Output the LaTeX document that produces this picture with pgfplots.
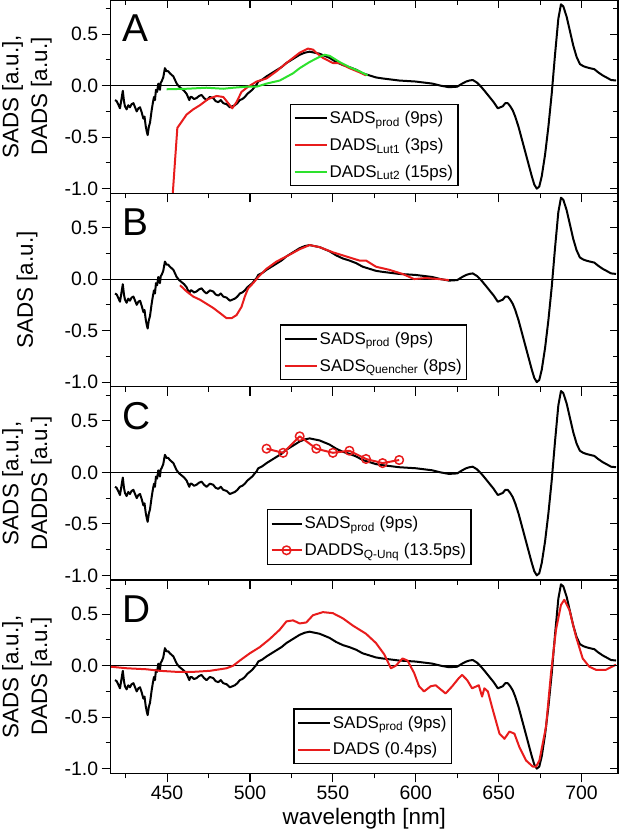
\documentclass[border=0pt]{standalone}
\usepackage{pgfplots}
\usepackage{pgfplotstable}
\pgfplotsset{compat=1.18}
\usepackage{fontspec}
\setmainfont{Liberation Sans}
\definecolor{myred}{RGB}{232,28,28}
\definecolor{mygreen}{RGB}{45,225,45}

\pgfplotstableread{
x y
418.6 -0.14
419.6 -0.15
420.5 -0.18
421.6 -0.22
422.6 -0.12
423.3 -0.05
424.0 -0.15
424.6 -0.20
425.6 -0.23
426.6 -0.19
427.6 -0.21
428.6 -0.18
429.7 -0.17
430.7 -0.21
431.7 -0.25
432.7 -0.22
433.7 -0.21
434.7 -0.26
435.7 -0.32
436.4 -0.30
437.1 -0.39
437.8 -0.45
438.3 -0.48
439.0 -0.40
439.7 -0.36
440.2 -0.30
440.7 -0.24
441.4 -0.17
442.1 -0.11
442.7 -0.14
443.3 -0.04
444.0 -0.06
444.7 0.02
445.2 -0.02
445.7 -0.04
446.2 0.03
446.7 0.04
447.7 0.08
448.7 0.17
449.7 0.14
450.7 0.14
451.7 0.12
453.8 0.09
455.8 0.02
457.3 -0.01
458.8 -0.03
460.3 -0.05
461.8 -0.08
462.6 -0.11
463.4 -0.14
464.1 -0.11
464.8 -0.11
466.3 -0.13
467.8 -0.12
469.3 -0.10
470.8 -0.09
472.3 -0.12
473.8 -0.14
475.8 -0.11
477.8 -0.12
479.3 -0.15
480.9 -0.16
482.4 -0.14
483.9 -0.17
485.9 -0.18
487.9 -0.21
489.4 -0.20
490.9 -0.19
492.4 -0.17
493.9 -0.14
495.4 -0.13
496.9 -0.11
498.4 -0.08
499.9 -0.06
501.4 -0.04
502.9 -0.01
504 0.01
505 0.04
507.5 0.06
510 0.09
513 0.12
516 0.15
519 0.18
522 0.22
526 0.26
530 0.30
533 0.32
536 0.33
539 0.32
542 0.31
545 0.29
548 0.27
552 0.23
556 0.20
560 0.18
564 0.155
568 0.12
572 0.10
576 0.08
580 0.07
585 0.06
590 0.05
595 0.045
600 0.04
605 0.03
610 0.02
615 0.00
620 -0.015
625 -0.01
628 0.02
630.4 0.04
632.4 0.05
634.4 0.055
636.9 0.03
639.4 -0.01
642 -0.06
644.5 -0.11
647 -0.16
649.5 -0.22
651 -0.21
652.5 -0.20
654 -0.17
655.5 -0.17
657 -0.20
658.5 -0.24
660 -0.30
662 -0.40
664 -0.52
666 -0.64
668 -0.76
670 -0.88
671.5 -0.96
673 -1.0
674.5 -0.98
676 -0.88
678 -0.67
680 -0.40
682 -0.08
684 0.30
686 0.65
687.6 0.79
689 0.77
691 0.67
693 0.53
695 0.39
697 0.28
699 0.21
701 0.19
702.7 0.18
705 0.17
707.7 0.16
710 0.13
712.7 0.10
715 0.08
717.8 0.055
720.8 0.05
}\sadsprod

\pgfplotstableread{
x y
453.0 -1.15
454.8 -0.73
456.2 -0.41
458.8 -0.35
461.8 -0.28
465.8 -0.23
469.8 -0.19
474.8 -0.13
479.9 -0.10
483.9 -0.11
486.9 -0.17
489.3 -0.22
491.9 -0.16
494.9 -0.06
498.9 -0.01
504 0.04
510 0.07
516 0.14
522 0.22
530 0.32
535 0.36
538 0.35
540 0.32
544 0.27
550 0.22
554 0.22
560 0.17
566 0.13
570 0.10
}\lutone

\pgfplotstableread{
x y
449.7 -0.035
461.8 -0.03
473.8 -0.02
483.9 -0.03
489.9 -0.02
497.9 -0.01
504 -0.01
510 0.02
518 0.05
526 0.12
530 0.17
536 0.23
542 0.28
545 0.30
548 0.29
554 0.23
560 0.18
566 0.14
571 0.10
}\luttwo

\pgfplotstableread{
x y
457.8 -0.06
461.8 -0.12
465.8 -0.17
469.8 -0.20
473.8 -0.24
477.8 -0.28
481.9 -0.33
485.9 -0.38
488.9 -0.38
491.9 -0.35
494.9 -0.27
496.9 -0.17
498.9 -0.09
501.9 -0.04
505 0.02
510 0.10
516 0.17
522 0.22
530 0.29
536 0.33
542 0.31
550 0.26
558 0.22
566 0.18
570 0.18
576 0.12
584 0.09
592 0.05
599 0.00
606 0.01
614 0.00
620 -0.01
}\quencher

\pgfplotstableread{
x y
510 0.23
520 0.19
530 0.35
540 0.23
550 0.19
560 0.21
570 0.13
580 0.09
590 0.12
}\qunq

\pgfplotstableread{
x y
416 -0.01
425.6 -0.025
437.7 -0.035
445.7 -0.05
455.8 -0.06
465.8 -0.06
475.8 -0.05
485.9 -0.025
489.9 0.0
493.9 0.05
499.9 0.12
505.9 0.18
512 0.26
518 0.35
522 0.43
526 0.44
530 0.41
534 0.42
538 0.49
544 0.52
550 0.51
556 0.46
562 0.39
570 0.31
576 0.22
581 0.11
585 -0.025
588 0.0
592 0.07
595 0.05
599 -0.07
602 -0.20
605 -0.25
609 -0.20
612 -0.19
615 -0.23
618 -0.27
622 -0.20
626 -0.12
628 -0.09
631 -0.14
634 -0.22
638 -0.19
640 -0.30
641.4 -0.22
643.5 -0.25
646.5 -0.43
650.5 -0.66
653.5 -0.71
656.5 -0.64
659.5 -0.66
662.5 -0.79
666.5 -0.92
670.6 -0.98
672.6 -0.98
674.6 -0.92
678.6 -0.59
681.6 -0.07
684.6 0.35
687.6 0.59
689.6 0.64
692.7 0.54
696.7 0.28
700.7 0.07
704.7 -0.01
708.7 -0.04
714.7 -0.04
720.8 0.01
}\dadsfast

\newcommand{\tickfont}{\fontsize{19.5}{22}\selectfont}
\newcommand{\labfont}{\fontsize{22.5}{29}\selectfont}
\newcommand{\legfont}{\fontsize{17}{20}\selectfont}

\pgfplotsset{
  panel/.style={
    scale only axis, width=507.3bp, height=193.3bp,
    xmin=416, xmax=722, ymin=-1.045, ymax=0.832,
    xtick={450,500,...,700}, minor xtick={425,475,...,725},
    ytick={-1,-0.5,0,0.5}, minor ytick={-0.75,-0.25,0.25,0.75},
    axis line style={line width=1.2bp},
    every tick/.style={line width=1.1bp, black},
    major tick length=9bp, minor tick length=5bp,
    tick label style={font=\tickfont},
    /pgf/number format/assume math mode=true,
    yticklabel style={/pgf/number format/.cd, fixed, fixed zerofill, precision=1},
    xticklabel style={/pgf/number format/.cd, fixed, precision=0, 1000 sep={}},
    legend cell align=left,
    legend image code/.code={\draw[mark repeat=2,mark phase=2,#1] plot coordinates {(0bp,0bp) (16bp,0bp) (32bp,0bp)};},
    legend style={draw=black, line width=1.2bp, font=\legfont, anchor=north west,
      inner xsep=3bp, inner ysep=5bp, row sep=9bp},
    ylabel style={at={(axis description cs:-0.165,0.5)}, anchor=center, align=center, font=\labfont},
  },
  mainax/.style={panel, tick align=outside, xtick pos=left, ytick pos=left},
  overax/.style={panel, tick align=inside, xtick pos=right, ytick pos=right,
    xticklabels={}, yticklabels={}, major tick length=8bp, minor tick length=5bp},
  blk/.style={black, line width=2bp, line join=round},
  rd/.style={myred, line width=2bp, line join=round},
  zero/.style={black, line width=0.8bp, forget plot},
}

\begin{document}
\begin{tikzpicture}[x=1bp,y=1bp]
\path[use as bounding box] (0,0) rectangle (620,837);

% Panel A
\begin{axis}[mainax, at={(110.7bp,643.7bp)}, anchor=south west, xticklabels={},
  ylabel={SADS [a.u.],\\DADS [a.u.]},
  legend style={at={(0.3534,0.462)}}]
\addplot[zero] coordinates {(416,0) (722,0)};
\addplot[blk] table {\sadsprod};
\addlegendentry{SADS\textsubscript{prod} (9ps)}
\addplot[rd] table {\lutone};
\addlegendentry{DADS\textsubscript{Lut1} (3ps)}
\addplot[mygreen, line width=2bp] table {\luttwo};
\addlegendentry{DADS\textsubscript{Lut2} (15ps)}
\node[anchor=north west, inner sep=0pt, font=\fontsize{39}{40}\selectfont] at (rel axis cs:0.022,0.922) {A};
\end{axis}
\begin{axis}[overax, at={(110.7bp,643.7bp)}, anchor=south west]
\end{axis}

% Panel B
\begin{axis}[mainax, at={(110.7bp,450.3bp)}, anchor=south west, xticklabels={},
  ylabel={SADS [a.u.]},
  legend style={at={(0.334,0.322)}}]
\addplot[zero] coordinates {(416,0) (722,0)};
\addplot[blk] table {\sadsprod};
\addlegendentry{SADS\textsubscript{prod} (9ps)}
\addplot[rd] table {\quencher};
\addlegendentry{SADS\textsubscript{Quencher} (8ps)}
\node[anchor=north west, inner sep=0pt, font=\fontsize{39}{40}\selectfont] at (rel axis cs:0.022,0.922) {B};
\end{axis}
\begin{axis}[overax, at={(110.7bp,450.3bp)}, anchor=south west]
\end{axis}

% Panel C
\begin{axis}[mainax, at={(110.7bp,257bp)}, anchor=south west, xticklabels={},
  ylabel={SADS [a.u.],\\DADDS [a.u.]},
  legend image code/.code={\draw[mark repeat=2,mark phase=2,#1] plot coordinates {(9bp,0bp) (24bp,0bp) (39bp,0bp)};},
  legend style={at={(0.308,0.367)}}]
\addplot[zero] coordinates {(416,0) (722,0)};
\addplot[blk] table {\sadsprod};
\addlegendentry{SADS\textsubscript{prod} (9ps)}
\addplot[rd, mark=o, mark size=4.3bp, mark options={line width=1.5bp}] table {\qunq};
\addlegendentry{DADDS\textsubscript{Q-Unq} (13.5ps)}
\node[anchor=north west, inner sep=0pt, font=\fontsize{39}{40}\selectfont] at (rel axis cs:0.022,0.922) {C};
\end{axis}
\begin{axis}[overax, at={(110.7bp,257bp)}, anchor=south west]
\end{axis}

% Panel D
\begin{axis}[mainax, at={(110.7bp,63.7bp)}, anchor=south west,
  ylabel={SADS [a.u.],\\DADS [a.u.]},
  xlabel={wavelength [nm]},
  xlabel style={at={(axis description cs:0.5,-0.178)}, anchor=north, inner sep=0pt, font=\labfont},
  legend style={at={(0.36,0.336)}}]
\addplot[zero] coordinates {(416,0) (722,0)};
\addplot[blk] table {\sadsprod};
\addlegendentry{SADS\textsubscript{prod} (9ps)}
\addplot[rd] table {\dadsfast};
\addlegendentry{DADS (0.4ps)}
\node[anchor=north west, inner sep=0pt, font=\fontsize{39}{40}\selectfont] at (rel axis cs:0.022,0.922) {D};
\end{axis}
\begin{axis}[overax, at={(110.7bp,63.7bp)}, anchor=south west]
\end{axis}
\end{tikzpicture}
\end{document}
